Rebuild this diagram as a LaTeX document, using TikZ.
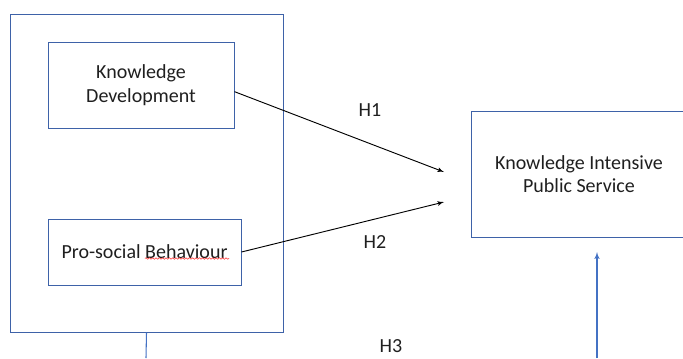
\documentclass[tikz,border=0pt]{standalone}
\usepackage{fontspec}
\setmainfont{Carlito}
\usetikzlibrary{arrows}
\usetikzlibrary{decorations.pathmorphing}
\definecolor{boxblue}{HTML}{3E62A8}
\definecolor{lineblue}{HTML}{4472C4}
\begin{document}
\begin{tikzpicture}[x=0.75pt, y=-0.75pt, >=latex', font=\fontsize{15pt}{17.5pt}\selectfont]
    \tikzstyle{block} = [draw=boxblue, line width=0.75pt, rectangle, align=center, inner sep=0pt, text=black!88];
    \tikzstyle{hlabel} = [inner sep=0pt, text=black!88];
    \useasboundingbox (0,0) rectangle (683,358);
    \node [block, minimum width=273*0.75pt, minimum height=318*0.75pt] (grp) at (146.5,173) {};
    \node [block, minimum width=186*0.75pt, minimum height=86*0.75pt] (kd) at (141,85) {Knowledge\\Development};
    \node [block, minimum width=193*0.75pt, minimum height=66*0.75pt] (psb) at (144.5,252) {Pro-social Behaviour};
    \node [block, minimum width=216*0.75pt, minimum height=126*0.75pt] (kips) at (579,174) {Knowledge Intensive\\Public Service};
    \coordinate (t1) at (444,172);
    \coordinate (t2) at (444,202);
    \coordinate (b1) at (146,358);
    \coordinate (b2) at (597,358);
    \coordinate (t3) at (597,252);
    \draw [->, line width=0.7pt] ([yshift=-5pt]kd.east) -- (t1);
    \draw [->, line width=0.7pt] (psb.east) -- (t2);
    \draw [lineblue, line width=0.8pt] (grp.south) -- (b1);
    \draw [->, lineblue, line width=0.8pt] (b2) -- (t3);
    \node [hlabel] (h1) at (370,110) {H1};
    \node [hlabel] (h2) at (375,242) {H2};
    \node [hlabel] (h3) at (391,346) {H3};
    % spelling mark under the word
    \draw [red!80, line width=0.4pt, decorate, decoration={snake, amplitude=0.6pt, segment length=2.5pt}] (145,258.5) -- (229,258.5);
  \end{tikzpicture}
\end{document}
